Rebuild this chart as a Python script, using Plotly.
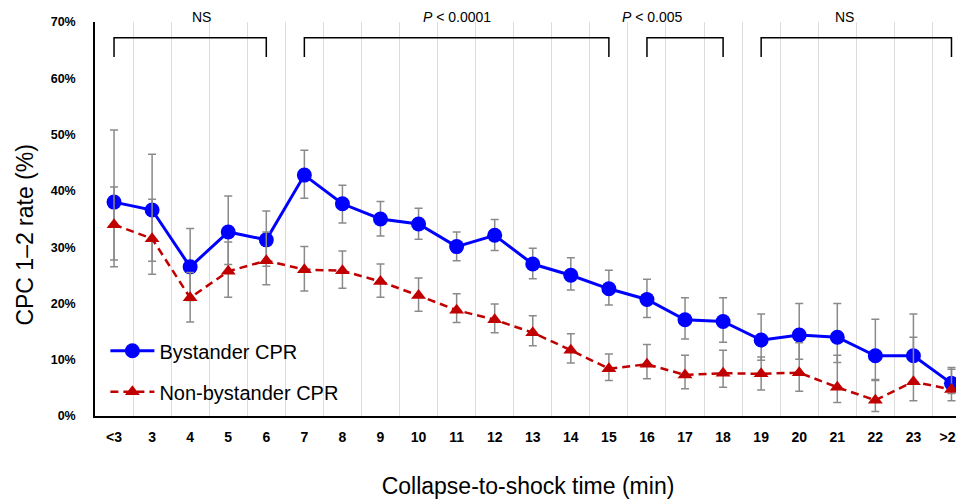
import plotly.graph_objects as go

# collapse-to-shock time categories
cats = ["<3"] + [str(i) for i in range(3, 24)] + [">23"]

# CPC 1-2 rate (%) with 95% CI
bystander = [38.0, 36.6, 26.5, 32.7, 31.3, 42.8, 37.7, 35.0, 34.1, 30.1, 32.1, 27.0,
             25.0, 22.6, 20.7, 17.1, 16.8, 13.5, 14.4, 14.0, 10.7, 10.7, 5.8]
bystander_hi = [50.8, 46.5, 33.3, 39.1, 36.4, 47.2, 41.0, 38.1, 36.9, 32.7, 34.9, 29.8,
                28.1, 25.9, 24.3, 21.0, 21.0, 18.1, 20.0, 20.0, 17.2, 18.1, 8.6]
bystander_lo = [27.7, 27.5, 20.5, 26.9, 26.6, 38.7, 34.3, 32.0, 31.4, 27.6, 29.4, 24.4,
                22.4, 19.7, 17.5, 13.7, 13.1, 9.9, 10.1, 9.5, 6.5, 6.0, 4.0]

non_bystander = [34.0, 31.5, 21.0, 25.7, 27.6, 26.0, 25.8, 23.9, 21.4, 18.8, 17.1, 14.8,
                 11.7, 8.4, 9.2, 7.3, 7.6, 7.5, 7.7, 5.1, 2.8, 6.1, 4.7]
non_bystander_hi = [40.7, 38.5, 25.5, 30.9, 32.7, 30.1, 29.3, 27.0, 24.5, 21.7, 19.9, 17.8,
                    14.6, 11.0, 12.7, 10.8, 11.7, 10.5, 13.0, 10.8, 6.3, 14.0, 8.3]
non_bystander_lo = [26.5, 25.2, 16.7, 21.1, 23.3, 22.2, 22.7, 21.1, 18.6, 16.6, 14.8, 12.5,
                    9.4, 6.3, 6.6, 4.85, 5.1, 4.6, 4.4, 2.4, 0.8, 2.7, 2.7]

# significance brackets: (first category, last category, label)
brackets = [("<3", "6", "NS"),
            ("7", "15", "<i>P</i> &lt; 0.0001"),
            ("16", "18", "<i>P</i> &lt; 0.005"),
            ("19", ">23", "NS")]

y_ticks = [0, 10, 20, 30, 40, 50, 60, 70]

FONT = "Liberation Sans, Arial, sans-serif"
ERR = "#8a8a8a"
X_RANGE = [-0.5, 22.25]
Y_RANGE = [0, 70]


def err(vals, hi, lo):
    return dict(type="data", symmetric=False,
                array=[h - v for v, h in zip(vals, hi)],
                arrayminus=[v - l for v, l in zip(vals, lo)],
                color=ERR, thickness=1.5, width=4)


fig = go.Figure()

fig.add_trace(go.Scatter(
    x=cats, y=bystander, name="Bystander CPR", legendgroup="a",
    mode="lines+markers", cliponaxis=False,
    line=dict(color="#0000ff", width=3),
    marker=dict(symbol="circle", size=15, color="#0000ff"),
    error_y=err(bystander, bystander_hi, bystander_lo),
))

fig.add_trace(go.Scatter(
    x=cats, y=non_bystander, name="Non-bystander CPR", legendgroup="b",
    mode="lines+markers", cliponaxis=False,
    line=dict(color="#c00000", width=2.5, dash="8px,5px"),
    marker=dict(symbol="triangle-up", size=13, color="#c00000"),
    error_y=err(non_bystander, non_bystander_hi, non_bystander_lo),
))

# brackets
for a, b, label in brackets:
    i0, i1 = cats.index(a), cats.index(b)
    fig.add_shape(type="path",
                  path=f"M {i0},63.8 L {i0},67.2 L {i1},67.2 L {i1},63.8",
                  xref="x", yref="y", line=dict(color="black", width=1.5))
    xc = ((i0 + i1) / 2 - X_RANGE[0]) / (X_RANGE[1] - X_RANGE[0])
    fig.add_annotation(x=xc, y=1 + 0.8 / Y_RANGE[1], text=label, showarrow=False,
                       xref="paper", yref="paper", yanchor="middle",
                       font=dict(size=14, color="black", family=FONT))

# y-axis title, sitting a little below the axis centre as in the original
fig.add_annotation(x=-0.081, y=0.46, xref="paper", yref="paper",
                   text="CPC 1\u20132 rate (%)", textangle=-90, showarrow=False,
                   xanchor="center", yanchor="middle",
                   font=dict(size=23, color="black", family=FONT))

fig.update_layout(
    width=956, height=492,
    margin=dict(l=87, r=0, t=14, b=84),
    paper_bgcolor="white", plot_bgcolor="white",
    font=dict(family=FONT, color="black"),
    showlegend=True,
    legend=dict(x=0.012, y=0.215, xanchor="left", yanchor="top",
                bgcolor="rgba(0,0,0,0)", font=dict(size=20),
                itemwidth=44,
                traceorder="grouped", tracegroupgap=12),
    xaxis=dict(
        type="category", range=X_RANGE,
        tickson="boundaries", ticks="", showgrid=True,
        gridcolor="#dcdcdc", gridwidth=1,
        showline=True, linecolor="black", linewidth=1.5,
        tickfont=dict(size=14, family=FONT, weight="bold"),
        ticklabelstandoff=7,
        title=dict(text="Collapse-to-shock time (min)",
                   font=dict(size=23), standoff=34),
    ),
    yaxis=dict(
        range=Y_RANGE, tickvals=y_ticks,
        ticktext=[f"{v}%" for v in y_ticks],
        showgrid=False, zeroline=False,
        showline=True, linecolor="black", linewidth=1.5,
        tickfont=dict(size=12.5, family=FONT, weight="bold"),
        ticklabelstandoff=15,
    ),
)

fig.write_html("out.html")
